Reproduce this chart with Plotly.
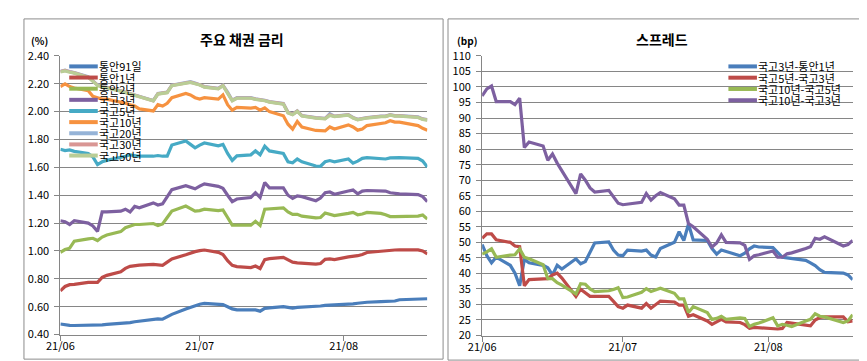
import plotly.graph_objects as go

# ---------------- data ----------------
dates = ["2021-06-01","2021-06-02","2021-06-03","2021-06-04","2021-06-07","2021-06-08","2021-06-09",
         "2021-06-10","2021-06-11","2021-06-14","2021-06-15","2021-06-16","2021-06-17","2021-06-18",
         "2021-06-21","2021-06-22","2021-06-23","2021-06-24","2021-06-25","2021-06-28","2021-06-29",
         "2021-06-30","2021-07-01","2021-07-02","2021-07-05","2021-07-06","2021-07-07","2021-07-08",
         "2021-07-09","2021-07-12","2021-07-13","2021-07-14","2021-07-15","2021-07-16","2021-07-19",
         "2021-07-20","2021-07-21","2021-07-22","2021-07-23","2021-07-26","2021-07-27","2021-07-28",
         "2021-07-29","2021-07-30","2021-08-02","2021-08-03","2021-08-04","2021-08-05","2021-08-06",
         "2021-08-09","2021-08-10","2021-08-11","2021-08-12","2021-08-13","2021-08-17","2021-08-18",
         "2021-08-19"]

tongan_91d = [0.476,0.470,0.466,0.465,0.465,0.465,0.466,0.470,0.473,0.478,
              0.481,0.486,0.492,0.496,0.507,0.512,0.510,0.528,0.545,0.584,
              0.597,0.610,0.618,0.624,0.618,0.615,0.600,0.584,0.577,0.577,
              0.577,0.568,0.588,0.592,0.600,0.595,0.590,0.595,0.596,0.600,
              0.605,0.610,0.611,0.612,0.618,0.620,0.625,0.630,0.632,0.637,
              0.639,0.640,0.641,0.650,0.657,0.657,0.657]
tongan_1y = [0.714,0.745,0.758,0.760,0.774,0.775,0.775,0.810,0.825,0.851,
             0.875,0.890,0.897,0.899,0.904,0.899,0.897,0.920,0.943,0.973,
             0.985,0.995,1.002,1.007,0.990,0.975,0.930,0.897,0.888,0.881,
             0.892,0.874,0.938,0.945,0.954,0.935,0.920,0.915,0.912,0.905,
             0.910,0.940,0.943,0.938,0.958,0.961,0.966,0.975,0.989,0.998,
             1.002,1.005,1.007,1.008,1.008,1.000,0.979]
tongan_2y = [0.990,1.010,1.020,1.070,1.087,1.091,1.075,1.100,1.115,1.139,
             1.167,1.180,1.190,1.190,1.197,1.183,1.194,1.240,1.286,1.322,
             1.305,1.286,1.290,1.300,1.290,1.295,1.240,1.185,1.185,1.185,
             1.213,1.183,1.300,1.303,1.309,1.280,1.263,1.263,1.250,1.237,
             1.240,1.272,1.265,1.254,1.270,1.277,1.260,1.265,1.277,1.270,
             1.260,1.247,1.247,1.247,1.250,1.258,1.230]
ktb_3y = [1.217,1.210,1.190,1.217,1.200,1.180,1.140,1.280,1.280,1.286,
          1.300,1.280,1.320,1.310,1.345,1.330,1.338,1.390,1.440,1.469,
          1.455,1.446,1.465,1.482,1.464,1.450,1.400,1.354,1.373,1.384,
          1.418,1.384,1.491,1.453,1.453,1.400,1.377,1.395,1.390,1.361,
          1.380,1.418,1.423,1.407,1.430,1.437,1.410,1.430,1.434,1.434,
          1.430,1.418,1.414,1.410,1.405,1.390,1.354]
ktb_5y = [1.730,1.720,1.725,1.715,1.700,1.675,1.620,1.640,1.650,1.670,
          1.680,1.690,1.685,1.680,1.680,1.685,1.680,1.680,1.760,1.790,
          1.765,1.740,1.760,1.775,1.755,1.765,1.700,1.650,1.683,1.690,
          1.718,1.690,1.752,1.718,1.700,1.640,1.633,1.660,1.640,1.610,
          1.608,1.640,1.649,1.640,1.660,1.630,1.645,1.665,1.670,1.665,
          1.660,1.668,1.670,1.670,1.665,1.645,1.603]
ktb_10y = [2.180,2.200,2.180,2.170,2.150,2.110,2.100,2.090,2.090,2.070,
           2.060,2.050,2.040,2.020,2.005,2.050,2.040,2.060,2.100,2.130,
           2.120,2.100,2.090,2.100,2.090,2.120,2.050,2.010,2.030,2.025,
           2.030,2.010,2.027,2.000,1.970,1.910,1.875,1.930,1.890,1.865,
           1.862,1.862,1.890,1.875,1.905,1.890,1.867,1.875,1.900,1.915,
           1.920,1.935,1.925,1.925,1.900,1.880,1.867]
ktb_20y = [2.290,2.298,2.288,2.280,2.250,2.222,2.192,2.180,2.175,2.150,
           2.140,2.130,2.120,2.110,2.080,2.130,2.135,2.140,2.190,2.208,
           2.215,2.205,2.195,2.180,2.168,2.190,2.140,2.082,2.100,2.100,
           2.092,2.088,2.082,2.072,2.058,1.995,1.982,2.006,1.972,1.957,
           1.952,1.952,1.985,1.968,1.978,1.958,1.945,1.952,1.958,1.968,
           1.968,1.978,1.972,1.972,1.962,1.948,1.943]
ktb_30y = [2.288,2.296,2.286,2.278,2.248,2.220,2.190,2.178,2.172,2.148,
           2.138,2.128,2.118,2.108,2.078,2.128,2.133,2.138,2.188,2.206,
           2.212,2.202,2.193,2.178,2.166,2.188,2.138,2.080,2.098,2.098,
           2.090,2.086,2.080,2.070,2.056,1.993,1.980,2.004,1.970,1.955,
           1.950,1.950,1.978,1.966,1.976,1.956,1.943,1.950,1.956,1.966,
           1.966,1.976,1.970,1.970,1.960,1.946,1.941]
ktb_50y = [2.284,2.292,2.283,2.276,2.246,2.218,2.188,2.176,2.170,2.146,
           2.136,2.126,2.116,2.106,2.077,2.126,2.131,2.136,2.186,2.204,
           2.210,2.200,2.191,2.176,2.164,2.186,2.136,2.078,2.096,2.096,
           2.088,2.084,2.078,2.068,2.054,1.991,1.978,2.002,1.968,1.953,
           1.948,1.948,1.972,1.964,1.974,1.954,1.941,1.948,1.954,1.964,
           1.964,1.974,1.968,1.968,1.958,1.944,1.939]

sp_3y_1y = [49.3,45.7,43.4,45.2,42.6,40.1,36.0,44.5,43.4,42.6,
            41.8,39.5,42.6,41.4,44.7,43.1,43.8,47.0,49.8,50.1,
            47.5,45.9,45.7,47.5,47.2,47.5,45.9,45.3,48.0,50.0,
            53.4,50.6,55.9,50.8,50.6,48.0,46.2,47.5,47.0,45.7,
            46.5,47.9,48.8,48.5,48.3,46.7,45.2,45.0,44.8,44.2,
            43.4,42.5,41.2,40.3,40.1,39.5,38.0]
sp_5y_3y = [51.3,52.7,52.7,50.8,50.0,48.8,48.6,36.0,38.0,38.3,
            38.3,39.5,40.1,38.5,32.6,34.9,33.9,32.6,32.6,32.6,
            31.0,29.3,28.8,29.8,28.8,30.3,28.8,30.0,31.1,30.8,
            29.8,29.8,26.2,26.7,24.7,23.6,24.4,25.2,24.4,24.2,
            23.5,22.3,22.6,22.5,22.1,22.1,22.3,24.2,24.0,23.5,
            23.1,25.0,25.8,26.0,26.0,24.4,24.7]
sp_10y_5y = [46.2,46.9,47.9,45.2,45.9,46.0,47.9,45.2,44.7,42.8,
             38.3,38.3,37.0,36.2,33.4,36.7,36.5,35.0,34.1,34.4,
             34.8,35.4,32.2,32.4,33.9,35.1,34.2,34.8,35.2,33.6,
             31.8,31.8,27.4,29.3,27.4,25.2,25.5,26.2,25.2,25.7,
             25.5,22.9,23.6,24.0,25.7,23.1,23.6,23.3,22.9,24.7,
             25.2,27.0,26.2,26.0,24.2,24.7,26.7]
sp_10y_3y = [97.1,99.4,100.3,95.3,95.3,94.3,96.4,80.5,82.3,81.0,
             76.4,78.4,75.5,73.0,65.7,72.0,70.0,67.5,66.2,66.7,
             64.5,62.6,62.1,62.3,62.9,65.7,63.6,65.0,66.0,64.0,
             62.0,62.0,56.0,55.0,51.0,48.5,49.8,52.4,50.0,49.8,
             49.0,44.5,45.7,46.0,47.2,45.2,45.2,46.3,46.6,48.0,
             48.6,51.3,51.0,51.8,48.8,49.3,50.6]

left_names = ["통안91일","통안1년","통안2년","국고3년","국고5년","국고10년","국고20년","국고30년","국고50년"]
left_values = [tongan_91d, tongan_1y, tongan_2y, ktb_3y, ktb_5y, ktb_10y, ktb_20y, ktb_30y, ktb_50y]
left_colors = ["#4A7EBB","#BE4B48","#98B954","#7D60A0","#46AAC5","#F69240","#95B3D7","#D99694","#B9CD96"]

right_names = ["국고3년-통안1년","국고5년-국고3년","국고10년-국고5년","국고10년-국고3년"]
right_values = [sp_3y_1y, sp_5y_3y, sp_10y_5y, sp_10y_3y]
right_colors = ["#4A7EBB","#BE4B48","#98B954","#7D60A0"]

month_ticks = ["2021-06-01","2021-07-01","2021-08-01"]
month_labels = ["21/06","21/07","21/08"]

# ---------------- figure ----------------
W, H = 867, 361
FONT = "Noto Sans CJK KR"
def fx(p): return p / W
def fy(p): return 1 - p / H

fig = go.Figure()
for n, v, c in zip(left_names, left_values, left_colors):
    fig.add_trace(go.Scatter(x=dates, y=v, name=n, mode="lines", line=dict(color=c, width=3.2),
                             xaxis="x", yaxis="y", showlegend=False))
for n, v, c in zip(right_names, right_values, right_colors):
    fig.add_trace(go.Scatter(x=dates, y=v, name=n, mode="lines", line=dict(color=c, width=3.2),
                             xaxis="x2", yaxis="y2", showlegend=False))

axis_common_x = dict(type="date", range=["2021-06-01", "2021-08-19"], tickvals=month_ticks,
                     ticktext=month_labels, showgrid=False, showline=True, linecolor="#868686",
                     linewidth=1, ticks="outside", ticklen=5, tickcolor="#868686",
                     tickfont=dict(family=FONT, size=11, color="#000"), zeroline=False,
                     ticklabelstandoff=-4, fixedrange=True)
axis_common_y = dict(showgrid=True, gridcolor="#868686", gridwidth=1, showline=True,
                     linecolor="#868686", linewidth=1, ticks="outside", ticklen=5,
                     tickcolor="#868686", tickfont=dict(family=FONT, size=11, color="#000"),
                     zeroline=False, ticklabelstandoff=3)

fig.update_layout(
    width=W, height=H, margin=dict(l=0, r=0, t=0, b=0),
    paper_bgcolor="white", plot_bgcolor="rgba(0,0,0,0)",
    font=dict(family=FONT, color="#000"),
    xaxis=dict(domain=[fx(39), fx(412)], anchor="y", **axis_common_x),
    yaxis=dict(domain=[fy(332.3), fy(40.7)], anchor="x", range=[0.4, 2.4], dtick=0.2,
               tickformat=".2f", **axis_common_y),
    xaxis2=dict(domain=[fx(467.7), fx(844.3)], anchor="y2", **axis_common_x),
    yaxis2=dict(domain=[fy(333.3), fy(40.7)], anchor="x2", range=[20, 110], dtick=5,
                **axis_common_y),
    showlegend=False,
)

shapes = [
    dict(type="rect", xref="paper", yref="paper", x0=fx(2), x1=fx(428), y0=fy(358), y1=fy(2),
         line=dict(color="#8C8C8C", width=1)),
    dict(type="rect", xref="paper", yref="paper", x0=fx(433), x1=fx(865), y0=fy(359), y1=fy(2),
         line=dict(color="#8C8C8C", width=1)),
]
annotations = [
    dict(text="<b>주요 채권 금리</b>", x=fx(224), y=fy(22.5), xref="paper", yref="paper",
         showarrow=False, font=dict(family=FONT, size=14), xanchor="center", yanchor="middle"),
    dict(text="<b>스프레드</b>", x=fx(650.5), y=fy(22.5), xref="paper", yref="paper",
         showarrow=False, font=dict(family=FONT, size=14), xanchor="center", yanchor="middle"),
    dict(text="<b>(%)</b>", x=fx(18), y=fy(25), xref="paper", yref="paper",
         showarrow=False, font=dict(family=FONT, size=10), xanchor="center", yanchor="middle"),
    dict(text="<b>(bp)</b>", x=fx(452), y=fy(25), xref="paper", yref="paper",
         showarrow=False, font=dict(family=FONT, size=10), xanchor="center", yanchor="middle"),
]

# hand-built legends (tight row spacing as in the original)
for k, (n, c) in enumerate(zip(left_names, left_colors)):
    yy = 51.7 + 11.66 * k
    shapes.append(dict(type="line", xref="paper", yref="paper", x0=fx(48), x1=fx(77),
                       y0=fy(yy), y1=fy(yy), line=dict(color=c, width=4)))
    annotations.append(dict(text=n, x=fx(77), y=fy(yy), xref="paper", yref="paper",
                            showarrow=False, font=dict(family=FONT, size=11),
                            xanchor="left", yanchor="middle", borderpad=0))
for k, (n, c) in enumerate(zip(right_names, right_colors)):
    yy = 51.7 + 11.8 * k
    shapes.append(dict(type="line", xref="paper", yref="paper", x0=fx(718), x1=fx(747),
                       y0=fy(yy), y1=fy(yy), line=dict(color=c, width=4)))
    annotations.append(dict(text=n, x=fx(747), y=fy(yy), xref="paper", yref="paper",
                            showarrow=False, font=dict(family=FONT, size=11),
                            xanchor="left", yanchor="middle", borderpad=0))

fig.update_layout(shapes=shapes, annotations=annotations)
fig.write_html("out.html")
